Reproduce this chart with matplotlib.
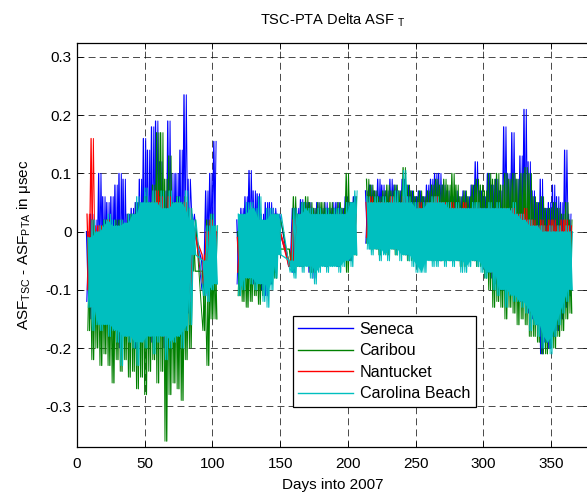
import matplotlib
matplotlib.use('Agg')
import matplotlib.pyplot as plt
import numpy as np

plt.rcParams['font.family'] = ['Liberation Sans', 'DejaVu Sans']
plt.rcParams['mathtext.fontset'] = 'custom'
plt.rcParams['mathtext.rm'] = 'Liberation Sans'
plt.rcParams['mathtext.it'] = 'Liberation Sans:italic'
plt.rcParams['lines.scale_dashes'] = False

# bin start days (3-day bins), three runs of data separated by gaps
days_p1 = np.r_[np.arange(7, 86, 3), np.arange(92, 102, 3)]
days_p2 = np.r_[np.arange(118, 149, 3), np.arange(156, 205, 3)]
days_p3 = np.arange(213, 364, 3)
bin_days = [days_p1, days_p2, days_p3]

# high / low value read per bin for each station (usec)
seneca_hi = [
    0.00, 0.03, 0.02, 0.10, 0.06, 0.05, 0.06, 0.08, 0.10, 0.09, 0.03, 0.04, 0.05, 0.09,
    0.16, 0.14, 0.18, 0.19, 0.12, 0.07, 0.19, 0.10, 0.10, 0.14, 0.235, 0.09, 0.03,
    -0.05, 0.07, 0.10, 0.155,
    0.02, 0.04, 0.06, 0.105, 0.07, 0.065, 0.03, 0.05, 0.05, 0.04, 0.03,
    -0.05, 0.04, 0.04, 0.055, 0.05, 0.05, 0.04, 0.05, 0.04, 0.05, 0.04, 0.05, 0.05, 0.04,
    0.06, 0.05, 0.06,
    0.07, 0.08, 0.07, 0.09, 0.08, 0.07, 0.09, 0.08, 0.07, 0.09, 0.08, 0.07, 0.06, 0.07,
    0.06, 0.08, 0.09, 0.10, 0.10, 0.08, 0.07, 0.06, 0.07, 0.06, 0.07, 0.06, 0.08, 0.12,
    0.07, 0.06, 0.10, 0.08, 0.09, 0.07, 0.18, 0.10, 0.17, 0.09, 0.13, 0.21, 0.12, 0.07,
    0.05, 0.09, 0.04, 0.05, 0.08, 0.06, 0.05, 0.14, 0.03]
seneca_lo = [
    -0.12, -0.15, -0.14, -0.15, -0.14, -0.16, -0.15, -0.17, -0.20, -0.16, -0.17, -0.18,
    -0.20, -0.17, -0.18, -0.16, -0.19, -0.17, -0.16, -0.20, -0.18, -0.17, -0.16, -0.18,
    -0.15, -0.14, 0.00,
    -0.10, -0.11, -0.10, -0.08,
    -0.09, -0.08, -0.07, -0.08, -0.09, -0.08, -0.10, -0.11, -0.09, -0.07, 0.00,
    -0.06, -0.07, -0.05, -0.06, -0.05, -0.07, -0.08, -0.06, -0.05, -0.06, -0.05, -0.05,
    -0.06, -0.05, -0.04, -0.05, -0.03,
    -0.02, -0.03, -0.02, -0.03, -0.02, -0.03, -0.02, -0.03, -0.02, -0.03, -0.04, -0.04,
    -0.05, -0.05, -0.04, -0.04, -0.04, -0.04, -0.05, -0.04, -0.04, -0.05, -0.04, -0.05,
    -0.05, -0.04, -0.04, -0.05, -0.05, -0.06, -0.07, -0.08, -0.09, -0.09, -0.10, -0.10,
    -0.10, -0.11, -0.12, -0.12, -0.14, -0.15, -0.16, -0.21, -0.19, -0.20, -0.18, -0.17,
    -0.15, -0.13, -0.11]

caribou_hi = [
    0.00, 0.02, 0.00, 0.01, 0.02, 0.02, 0.01, 0.02, 0.02, 0.01, 0.03, 0.03, 0.05, 0.04,
    0.06, 0.05, 0.08, 0.17, 0.17, 0.09, 0.13, 0.05, 0.06, 0.05, 0.06, 0.04, 0.02,
    -0.068, 0.02, 0.03, 0.01,
    0.00, 0.02, 0.03, 0.04, 0.02, 0.03, 0.00, 0.02, 0.02, 0.03, 0.02,
    -0.03, 0.06, 0.03, 0.05, 0.06, 0.05, 0.04, 0.05, 0.05, 0.04, 0.05, 0.04, 0.05, 0.04,
    0.10, 0.05, 0.06,
    0.09, 0.08, 0.07, 0.06, 0.07, 0.08, 0.07, 0.08, 0.07, 0.11, 0.08, 0.07, 0.06, 0.07,
    0.06, 0.07, 0.08, 0.09, 0.08, 0.09, 0.08, 0.10, 0.08, 0.06, 0.07, 0.06, 0.08, 0.09,
    0.08, 0.07, 0.10, 0.09, 0.10, 0.08, 0.10, 0.09, 0.10, 0.09, 0.10, 0.11, 0.10, 0.06,
    0.05, 0.06, 0.04, 0.04, 0.05, 0.04, 0.03, 0.05, 0.02]
caribou_lo = [
    -0.17, -0.22, -0.20, -0.23, -0.21, -0.23, -0.26, -0.22, -0.24, -0.22, -0.25, -0.24,
    -0.27, -0.25, -0.28, -0.24, -0.22, -0.26, -0.24, -0.36, -0.28, -0.26, -0.27, -0.29,
    -0.22, -0.20, -0.068,
    -0.17, -0.23, -0.15, -0.15,
    -0.11, -0.12, -0.13, -0.12, -0.11, -0.125, -0.11, -0.09, -0.09, -0.08, -0.03,
    -0.06, -0.07, -0.06, -0.06, -0.05, -0.07, -0.07, -0.06, -0.05, -0.06, -0.05, -0.05,
    -0.06, -0.05, -0.07, -0.05, -0.04,
    -0.02, -0.03, -0.03, -0.04, -0.03, -0.04, -0.03, -0.04, -0.03, -0.04, -0.05, -0.05,
    -0.05, -0.05, -0.05, -0.04, -0.05, -0.05, -0.05, -0.05, -0.05, -0.05, -0.05, -0.06,
    -0.06, -0.05, -0.05, -0.06, -0.06, -0.08, -0.10, -0.13, -0.12, -0.13, -0.15, -0.13,
    -0.14, -0.16, -0.15, -0.16, -0.18, -0.18, -0.19, -0.21, -0.21, -0.20, -0.20, -0.18,
    -0.17, -0.15, -0.14]

nantucket_hi = [
    0.03, 0.16, 0.01, 0.01, 0.00, 0.02, -0.01, 0.00, 0.00, 0.00, 0.01, 0.00, -0.03, 0.00,
    0.03, 0.04, 0.05, 0.07, 0.06, 0.03, 0.06, 0.04, 0.05, 0.03, 0.05, 0.02, 0.00,
    -0.04, 0.00, 0.02, 0.00,
    -0.01, 0.00, 0.02, 0.02, 0.00, 0.02, -0.01, 0.00, 0.01, 0.00, 0.00,
    -0.06, 0.02, 0.01, 0.03, 0.02, 0.02, 0.01, 0.02, 0.02, 0.01, 0.02, 0.02, 0.03, 0.02,
    0.03, 0.02, 0.03,
    0.05, 0.06, 0.04, 0.05, 0.05, 0.04, 0.06, 0.05, 0.04, 0.06, 0.05, 0.04, 0.04, 0.05,
    0.04, 0.05, 0.05, 0.06, 0.05, 0.05, 0.04, 0.05, 0.04, 0.04, 0.05, 0.03, 0.04, 0.04,
    0.04, 0.03, 0.04, 0.03, 0.04, 0.03, 0.04, 0.03, 0.04, 0.03, 0.03, 0.04, 0.02, 0.02,
    0.01, 0.02, 0.01, 0.02, 0.02, 0.01, 0.02, 0.02, 0.01]
nantucket_lo = [
    -0.10, -0.13, -0.12, -0.14, -0.13, -0.15, -0.14, -0.15, -0.17, -0.15, -0.15, -0.16,
    -0.18, -0.15, -0.16, -0.15, -0.17, -0.16, -0.15, -0.18, -0.16, -0.15, -0.14, -0.16,
    -0.13, -0.12, -0.005,
    -0.09, -0.10, -0.08, -0.07,
    -0.07, -0.06, -0.07, -0.06, -0.07, -0.06, -0.07, -0.06, -0.05, -0.06, 0.00,
    -0.05, -0.06, -0.05, -0.05, -0.04, -0.06, -0.06, -0.05, -0.04, -0.05, -0.04, -0.04,
    -0.05, -0.04, -0.04, -0.04, -0.03,
    -0.01, -0.02, -0.01, -0.02, -0.01, -0.02, -0.01, -0.02, -0.01, -0.02, -0.03, -0.03,
    -0.04, -0.04, -0.03, -0.03, -0.03, -0.03, -0.04, -0.03, -0.03, -0.04, -0.03, -0.04,
    -0.04, -0.03, -0.03, -0.04, -0.04, -0.05, -0.06, -0.07, -0.08, -0.08, -0.09, -0.09,
    -0.09, -0.10, -0.10, -0.11, -0.12, -0.13, -0.14, -0.15, -0.15, -0.14, -0.13, -0.12,
    -0.11, -0.10, -0.08]

carolina_hi = [
    -0.01, 0.02, 0.00, 0.01, 0.02, 0.03, 0.02, 0.01, 0.02, 0.015, 0.03, 0.03, 0.06, 0.05,
    0.075, 0.05, 0.07, 0.05, 0.07, 0.04, 0.07, 0.05, 0.06, 0.05, 0.07, 0.04, 0.02,
    -0.05, 0.01, 0.03, 0.01,
    0.03, 0.03, 0.05, 0.05, 0.04, 0.06, 0.02, 0.04, 0.04, 0.03, 0.03,
    -0.05, 0.04, 0.03, 0.05, 0.04, 0.04, 0.03, 0.04, 0.03, 0.04, 0.03, 0.04, 0.04, 0.03,
    0.05, 0.05, 0.07,
    0.06, 0.05, 0.06, 0.05, 0.06, 0.05, 0.06, 0.07, 0.05, 0.105, 0.06, 0.05, 0.05, 0.04,
    0.05, 0.05, 0.06, 0.06, 0.05, 0.05, 0.05, 0.04, 0.05, 0.04, 0.04, 0.04, 0.05, 0.05,
    0.04, 0.04, 0.05, 0.04, 0.05, 0.04, 0.04, 0.04, 0.05, 0.03, 0.03, 0.02, 0.02, 0.01,
    0.01, 0.01, 0.00, 0.01, 0.00, 0.01, 0.00, 0.01, 0.00]
carolina_lo = [
    -0.13, -0.17, -0.16, -0.17, -0.16, -0.18, -0.17, -0.19, -0.23, -0.18, -0.19, -0.20,
    -0.23, -0.19, -0.20, -0.18, -0.21, -0.19, -0.18, -0.22, -0.20, -0.19, -0.18, -0.20,
    -0.17, -0.16, -0.04,
    -0.11, -0.12, -0.10, -0.09,
    -0.11, -0.10, -0.08, -0.09, -0.10, -0.09, -0.12, -0.13, -0.10, -0.08, -0.04,
    -0.07, -0.08, -0.06, -0.07, -0.06, -0.08, -0.09, -0.07, -0.06, -0.07, -0.06, -0.06,
    -0.07, -0.06, -0.05, -0.06, -0.04,
    -0.03, -0.04, -0.03, -0.05, -0.04, -0.05, -0.03, -0.04, -0.05, -0.04, -0.05, -0.06,
    -0.07, -0.07, -0.07, -0.05, -0.06, -0.06, -0.05, -0.06, -0.05, -0.06, -0.05, -0.07,
    -0.07, -0.06, -0.05, -0.06, -0.07, -0.08, -0.07, -0.10, -0.11, -0.10, -0.13, -0.11,
    -0.12, -0.12, -0.13, -0.14, -0.17, -0.16, -0.18, -0.20, -0.19, -0.21, -0.18, -0.16,
    -0.14, -0.12, -0.10]

station_names = ['Seneca', 'Caribou', 'Nantucket', 'Carolina Beach']


def pieces(hi, lo, shift):
    """Split the per-bin values into the runs of data; x of the high and low sample."""
    out = []
    start = 0
    for d in bin_days:
        n = len(d)
        out.append((d + shift, np.asarray(hi[start:start + n]),
                    d + shift + 1.5, np.asarray(lo[start:start + n])))
        start += n
    return out


def zigzag(hi, lo, shift):
    xs, ys = [], []
    for xh, h, xl, l in pieces(hi, lo, shift):
        xs += [np.column_stack([xh, xl]).ravel(), [np.nan]]
        ys += [np.column_stack([h, l]).ravel(), [np.nan]]
    return np.concatenate(xs), np.concatenate(ys)


def neighbour(v, fn):
    """Value shared by a bin and its neighbours (the dense part of the trace)."""
    p = np.r_[v[0], v, v[-1]]
    return fn(fn(p[:-2], p[1:-1]), p[2:])


W, H = 587, 492
fig = plt.figure(figsize=(W / 100, H / 100), dpi=100)
# right spine sits just past the picture edge, as in the original
ax = fig.add_axes([77 / W, 1 - 447 / H, 512 / W, 404 / H])

series = [
    (seneca_hi, seneca_lo, 0.0, '#0000ff'),
    (caribou_hi, caribou_lo, 0.75, '#008000'),
    (nantucket_hi, nantucket_lo, 0.4, '#ff0000'),
    (carolina_hi, carolina_lo, 1.1, '#00bfbf'),
]
for k, ((hi, lo, shift, color), name) in enumerate(zip(series, station_names)):
    z = 2 + k * 0.1
    x, y = zigzag(hi, lo, shift)
    ax.plot(x, y, color=color, lw=0.9, label=name, zorder=z)
    # reverse-phase pass of the same samples makes the trace as dense as the record
    x2, y2 = zigzag(lo, hi, shift + 0.2)
    ax.plot(x2, y2, color=color, lw=0.7, zorder=z)

# solid core of the topmost trace, left open over the short gaps in the record
hi, lo, shift, color = series[3]
for xh, h, xl, l in pieces(hi, lo, shift):
    cuts = np.where(np.diff(xh) > 3.5)[0] + 1
    for sxh, sh, sxl, sl in zip(np.split(xh, cuts), np.split(h, cuts),
                                np.split(xl, cuts), np.split(l, cuts)):
        top = neighbour(sh, np.minimum)
        bot = neighbour(sl, np.maximum)
        ax.fill(np.r_[sxh, sxl[::-1]], np.r_[top, bot[::-1]], color=color, lw=0,
                zorder=2.25)

ax.set_xlim(0, 378)
ax.set_ylim(-0.37, 0.324)
ax.set_xticks(np.arange(0, 351, 50))
yt = [0.3, 0.2, 0.1, 0, -0.1, -0.2, -0.3]
ax.set_yticks(yt)
ax.set_yticklabels(['0.3', '0.2', '0.1', '0', '-0.1', '-0.2', '-0.3'])
ax.tick_params(direction='in', length=4.5, width=0.6, top=True, right=True,
               labelsize=11, colors='black')
ax.tick_params(axis='x', pad=7)
ax.tick_params(axis='y', pad=4)
ax.set_axisbelow(True)
ax.grid(True, color='black', lw=0.5, linestyle=(0, (5, 3)))
for s in ax.spines.values():
    s.set_linewidth(0.9)

fig.text(333 / W, 1 - 25 / H, r'TSC-PTA Delta ASF $_{\rm T}$', ha='center',
         va='baseline', fontsize=10.5)
fig.text(333 / W, 1 - 489 / H, 'Days into 2007', ha='center', va='baseline',
         fontsize=11)
fig.text(24 / W, 1 - 245 / H, r'ASF$_{\rm TSC}$ - ASF$_{\rm PTA}$ in μsec',
         rotation=90, ha='center', va='center', fontsize=11)

leg = ax.legend(loc='lower left', bbox_to_anchor=(0.4213, 0.0992), borderaxespad=0,
                fontsize=11.6, handlelength=3.4, handletextpad=0.4,
                labelspacing=0.4, borderpad=0.35, fancybox=False,
                framealpha=1, edgecolor='black')
leg.set_zorder(5)
leg.get_frame().set_linewidth(0.9)
for line in leg.get_lines():
    line.set_linewidth(1.0)

fig.savefig('out.png', dpi=100)
